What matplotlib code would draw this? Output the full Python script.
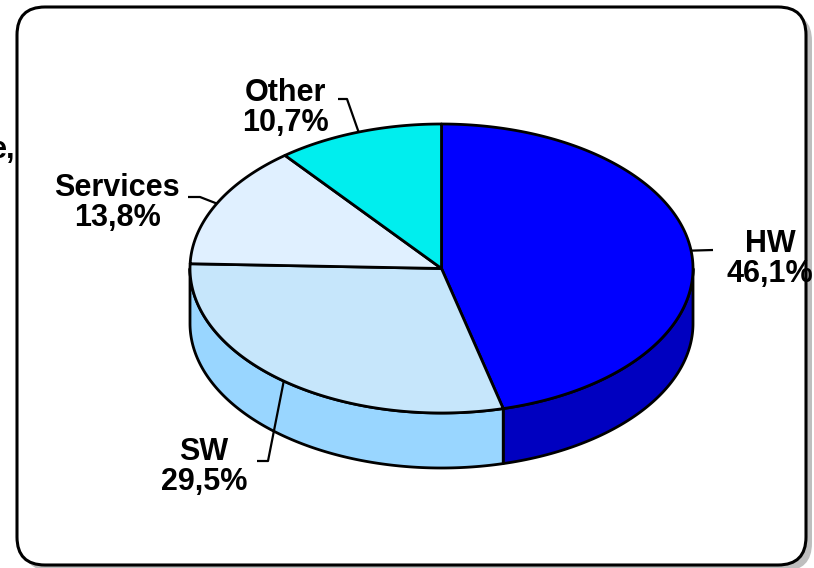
import numpy as np
import matplotlib
matplotlib.use("Agg")
import matplotlib.pyplot as plt
from matplotlib.patches import Polygon, FancyBboxPatch

# data
labels = ["HW", "SW", "Services", "Other"]
shares = [46.1, 29.5, 13.8, 10.7]
top_colors = ["#0000FF", "#C6E6FB", "#E0F0FF", "#00EEEE"]
side_colors = ["#0000C0", "#99D6FF", "#C0E0FF", "#00B0B0"]

# label placement (pixel coords, y down)
label_xy = [(770, 259), (204, 467), (117, 203), (285, 108)]
# elbow of each leader line, ending at the slice's mid-edge
leader_start = [[(713, 250)],
                [(257, 461), (268, 461)],
                [(188, 197), (200, 197)],
                [(338, 99), (347, 99)]]

# pie geometry
cx, cy = 441.5, 268.5
rx, ry = 251.5, 144.5
depth = 55

W, H = 814, 568
fig = plt.figure(figsize=(W / 100, H / 100), dpi=100)
ax = fig.add_axes([0, 0, 1, 1])
ax.set_xlim(0, W)
ax.set_ylim(H, 0)
ax.axis("off")

# rounded frame with drop shadow
fx0, fy0, fx1, fy1 = 17, 7, 806, 565
shadow = FancyBboxPatch((fx0 + 6, fy0 + 6), fx1 - fx0, fy1 - fy0,
                        boxstyle="round,pad=0,rounding_size=28",
                        fc="#BEBEBE", ec="none", zorder=0)
ax.add_patch(shadow)
frame = FancyBboxPatch((fx0, fy0), fx1 - fx0, fy1 - fy0,
                       boxstyle="round,pad=0,rounding_size=28",
                       fc="white", ec="none", zorder=1)
ax.add_patch(frame)
frame_edge = FancyBboxPatch((fx0, fy0), fx1 - fx0, fy1 - fy0,
                            boxstyle="round,pad=0,rounding_size=28",
                            fc="none", ec="black", lw=2.2, zorder=10)
ax.add_patch(frame_edge)


def ell(theta):
    t = np.radians(theta)
    return cx + rx * np.cos(t), cy - ry * np.sin(t)


total = sum(shares)
starts = []
ends = []
acc = 0.0
for s in shares:
    starts.append(90 - 360 * acc / total)
    acc += s
    ends.append(90 - 360 * acc / total)

# visible side walls (front half of the ellipse)
for t1, t2, col in zip(starts, ends, side_colors):
    for k in (-1, 0, 1):
        lo = max(t2, -180 + 360 * k)
        hi = min(t1, 360 * k)
        if hi - lo <= 0:
            continue
        th = np.linspace(hi, lo, 200)
        xs, ys = ell(th)
        pts = list(zip(xs, ys)) + list(zip(xs[::-1], ys[::-1] + depth))
        ax.add_patch(Polygon(pts, closed=True, fc=col, ec="black",
                             lw=2, joinstyle="round", zorder=2))

# top face
for t1, t2, col in zip(starts, ends, top_colors):
    th = np.linspace(t1, t2, 300)
    xs, ys = ell(th)
    pts = [(cx, cy)] + list(zip(xs, ys))
    ax.add_patch(Polygon(pts, closed=True, fc=col, ec="black",
                         lw=2, joinstyle="round", zorder=3))

# labels and leader lines
for i, (lab, s) in enumerate(zip(labels, shares)):
    mid = (starts[i] + ends[i]) / 2
    mx, my = ell(mid)
    path = leader_start[i] + [(mx, my)]
    px, py = zip(*path)
    ax.plot(px, py, color="black", lw=1.6, zorder=4, solid_capstyle="butt")
    txt = f"{lab}\n{s:.1f}%".replace(".", ",")
    t = ax.text(label_xy[i][0], label_xy[i][1], txt, ha="center", va="center",
                fontsize=22, fontweight="bold", family="Liberation Sans",
                linespacing=0.98, zorder=5)
    t.set_clip_path(frame)

# cut-off label from a neighbouring chart
ax.text(15, 150, "e,", ha="right", va="center", fontsize=22,
        fontweight="bold", family="Liberation Sans", zorder=5)

fig.savefig("out.png", dpi=100)
